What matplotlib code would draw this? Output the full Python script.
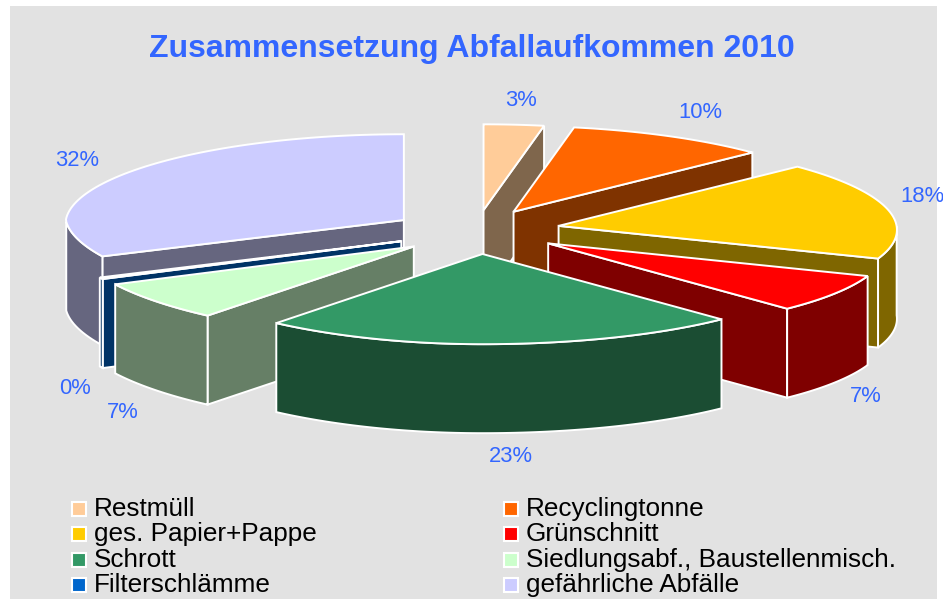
import numpy as np
import matplotlib
matplotlib.use("Agg")
import matplotlib.pyplot as plt
from matplotlib.patches import Polygon, Rectangle

title = "Zusammensetzung Abfallaufkommen 2010"
categories = ["Restmüll", "Recyclingtonne", "ges. Papier+Pappe", "Grünschnitt",
              "Schrott", "Siedlungsabf., Baustellenmisch.", "Filterschlämme",
              "gefährliche Abfälle"]
values = [3.0, 10.0, 18.0, 7.0, 23.0, 7.0, 0.3, 31.7]
percent_labels = ["3%", "10%", "18%", "7%", "23%", "7%", "0%", "32%"]
colors = ["#FFCC99", "#FF6600", "#FFCC00", "#FF0000", "#339966", "#CCFFCC", "#0066CC", "#CCCCFF"]
side_colors = ["#7F664C", "#7F3300", "#7F6600", "#7F0000", "#1B4D33", "#667F66", "#003366", "#66667F"]

# layout (pixels)
CX, CY = 482, 231
RX, RY = 338, 88
EX, EY = 80, 22
DEPTH = 89
PERSP_X = 0.045
PERSP_Y = 0.025
LEFT_PINCH = 17
SHIFT_X = [-6, -7, -2, 0, -2, -5, -8, -11]
SHIFT_Y = [1, 0, -1, 0, 1, 2, 1, 1]
LABEL_XY = [(521, 100), (700, 112), (922, 197), (866, 396), (511, 456), (123, 412), (75, 388), (77, 160)]
DRAW_ORDER = [0, 1, 2, 7, 3, 6, 5, 4]
BLUE = "#3366FF"
FONT = "Liberation Sans"

fig = plt.figure(figsize=(9.43, 5.99), dpi=100, facecolor="white")
ax = fig.add_axes([0, 0, 1, 1])
ax.set_xlim(0, 943)
ax.set_ylim(599, 0)
ax.axis("off")
ax.add_patch(Rectangle((10, 6), 927, 600, fc="#E2E2E2", ec="none", zorder=0))

edges = np.cumsum([0] + values) / sum(values) * 2 * np.pi
z = 1


def face(pts, color):
    global z
    ax.add_patch(Polygon(pts, closed=True, fc=color, ec="white", lw=1.4, joinstyle="miter", zorder=z))
    z += 1


def rim_point(ox, oy, a):
    a = np.asarray(a, dtype=float)
    pinch = np.where((a > np.pi) & (a < 1.5 * np.pi), LEFT_PINCH * np.sin(2 * (a - np.pi)), 0.0)
    x = ox + RX * (1 - PERSP_X * np.cos(a)) * np.sin(a) + pinch
    y = oy - RY * (1 - PERSP_Y * np.cos(a)) * np.cos(a)
    return x, y


for i in DRAW_ORDER:
    a0, a1 = edges[i], edges[i + 1]
    mid = (a0 + a1) / 2
    ox = CX + EX * np.sin(mid) + SHIFT_X[i]
    oy = CY - EY * np.cos(mid) + SHIFT_Y[i]
    t = np.linspace(a0, a1, 80)
    xs, ys = rim_point(ox, oy, t)
    if np.sin(a1) > 0:
        x1, y1 = rim_point(ox, oy, a1)
        face([(ox, oy), (x1, y1), (x1, y1 + DEPTH), (ox, oy + DEPTH)], side_colors[i])
    if np.sin(a0) < 0:
        x0, y0 = rim_point(ox, oy, a0)
        face([(ox, oy), (x0, y0), (x0, y0 + DEPTH), (ox, oy + DEPTH)], side_colors[i])
    m = np.cos(t) < 0
    if m.sum() > 1:
        rim = list(zip(xs[m], ys[m])) + list(zip(xs[m][::-1], ys[m][::-1] + DEPTH))
        face(rim, side_colors[i])
    face([(ox, oy)] + list(zip(xs, ys)), colors[i])

ax.text(472, 49, title, ha="center", va="center", color=BLUE, fontsize=23,
        fontweight="bold", family=FONT, zorder=100)
for lab, (x, y) in zip(percent_labels, LABEL_XY):
    ax.text(x, y, lab, ha="center", va="center", color=BLUE, fontsize=15.8, family=FONT, zorder=100)

rows = [509, 534, 560, 585]
for k, (name, col) in enumerate(zip(categories, colors)):
    c, r = k % 2, k // 2
    sx = [72, 504][c]
    tx = [94, 526][c]
    y = rows[r]
    ax.add_patch(Rectangle((sx, y - 7), 14, 14, fc=col, ec="white", lw=1.5, zorder=100))
    ax.text(tx, y, name, ha="left", va="center", color="black", fontsize=18.8, family=FONT, zorder=100)

fig.savefig("out.png", dpi=100)
